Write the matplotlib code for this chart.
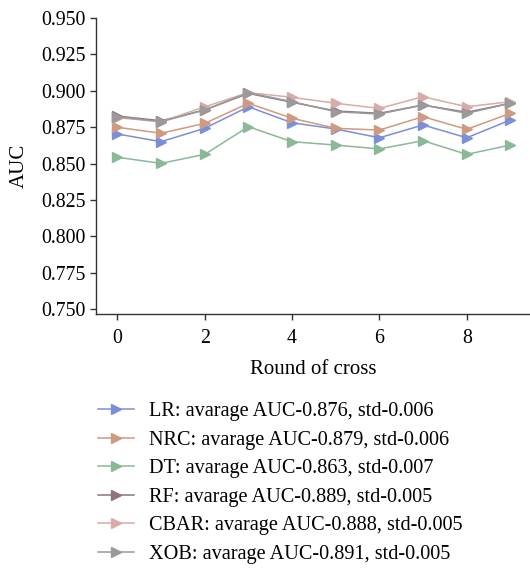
import matplotlib
matplotlib.use("Agg")
import matplotlib.pyplot as plt

plt.rcParams['font.family'] = ['Liberation Serif', 'DejaVu Serif']

rounds = list(range(10))
models = ["LR", "NRC", "DT", "RF", "CBAR", "XOB"]
labels = [
    "LR: avarage AUC-0.876, std-0.006",
    "NRC: avarage AUC-0.879, std-0.006",
    "DT: avarage AUC-0.863, std-0.007",
    "RF: avarage AUC-0.889, std-0.005",
    "CBAR: avarage AUC-0.888, std-0.005",
    "XOB: avarage AUC-0.891, std-0.005",
]
lr = [0.8703, 0.8650, 0.8742, 0.8890, 0.8780, 0.8737, 0.8677, 0.8765, 0.8677, 0.8799]
nrc = [0.8749, 0.8708, 0.8776, 0.8914, 0.8811, 0.8742, 0.8730, 0.8822, 0.8735, 0.8845]
dt = [0.8543, 0.8501, 0.8563, 0.8753, 0.8650, 0.8627, 0.8600, 0.8657, 0.8563, 0.8627]
rf = [0.8826, 0.8794, 0.8868, 0.8982, 0.8921, 0.8861, 0.8845, 0.8902, 0.8852, 0.8914]
cbar = [0.8815, 0.8787, 0.8890, 0.8987, 0.8955, 0.8914, 0.8879, 0.8959, 0.8890, 0.8925]
xob = [0.8822, 0.8787, 0.8868, 0.8987, 0.8925, 0.8856, 0.8840, 0.8902, 0.8845, 0.8914]
series = [lr, nrc, dt, rf, cbar, xob]
colors = ["#7b8fd6", "#cf9a82", "#8bb896", "#8e7282", "#d9aba8", "#9a9a9a"]
yticks = [0.750, 0.775, 0.800, 0.825, 0.850, 0.875, 0.900, 0.925, 0.950]
xticks = [0, 2, 4, 6, 8]

fig = plt.figure(figsize=(5.3, 5.71), dpi=100)
ax = fig.add_axes([96 / 530, (571 - 314) / 571, 1 - 96 / 530, (314 - 18) / 571])

for vals, col, lab in zip(series, colors, labels):
    ax.plot(rounds, vals, color=col, marker=">", markersize=7, linewidth=1.1, label=lab)

ax.set_xlim(-0.49, 9.45)
ax.set_ylim(0.7466, 0.95)
ax.set_yticks(yticks)
ax.set_yticklabels([f"{v:.3f}" for v in yticks])
ax.set_xticks(xticks)
ax.spines['top'].set_visible(False)
ax.spines['right'].set_visible(False)
for s in ['left', 'bottom']:
    ax.spines[s].set_color('#333333')
    ax.spines[s].set_linewidth(1.0)
ax.tick_params(labelsize=14.3, length=4.5, width=1, color='#333333')
ax.tick_params(axis='x', pad=6)
ax.tick_params(axis='y', pad=3)
ax.set_xlabel("Round of cross", fontsize=15, labelpad=9)
ax.set_ylabel("AUC", fontsize=15, labelpad=9)

fig.legend(loc="upper left", bbox_to_anchor=(90 / 530, (571 - 394) / 571),
           frameon=False, fontsize=14.6, handlelength=1.75, labelspacing=0.46,
           handletextpad=0.75, borderaxespad=0)

fig.savefig("out.png", dpi=100)
